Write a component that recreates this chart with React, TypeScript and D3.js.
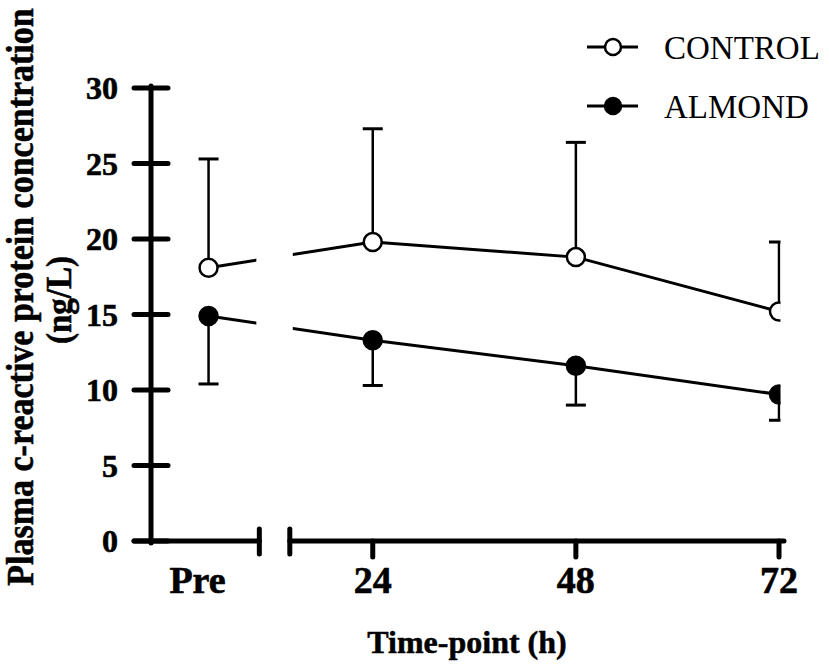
import React from "react";
import { scaleLinear, line } from "d3";

// time points (Pre is drawn at a pseudo-hour left of the axis break)
const timeLabels = ["Pre", "24", "48", "72"];
const timePos = [4.6, 24, 48, 72];

// CRP means and one-sided SD bars (ng/L)
const controlMean = [18.1, 19.8, 18.8, 15.2];
const controlUpper = [25.3, 27.3, 26.4, 19.8];
const almondMean = [14.9, 13.3, 11.6, 9.7];
const almondLower = [10.4, 10.3, 9.0, 8.0];

const yTicks = [0, 5, 10, 15, 20, 25, 30];
const breakAt = [10.6, 14.2];

const W = 829;
const H = 671;
const font = "'Liberation Serif', 'Times New Roman', serif";

export default function App() {
  const x = scaleLinear().domain([-2.2, 72]).range([151, 779]);
  const y = scaleLinear().domain([0, 30]).range([541, 88]);
  const y0 = y(0);

  const makeLine = line<number>()
    .x((_, i) => x(timePos[i]))
    .y((d) => y(d));

  const clipRight = x(72) + 1.5;

  const series = [
    { name: "CONTROL", mean: controlMean, bar: controlUpper, fill: "#fff" },
    { name: "ALMOND", mean: almondMean, bar: almondLower, fill: "#000" },
  ];

  return (
    <svg
      width={W}
      height={H}
      style={{ position: "absolute", left: 0, top: 0, background: "#fff" }}
    >
      <defs>
        <clipPath id="plot">
          <rect x={0} y={0} width={clipRight} height={H} />
        </clipPath>
        {/* gap in the data lines at the axis break */}
        <mask id="gap">
          <rect x={0} y={0} width={W} height={H} fill="#fff" />
          <rect
            x={x(breakAt[0]) - 3}
            y={0}
            width={x(breakAt[1]) - x(breakAt[0]) + 6}
            height={H}
            fill="#000"
          />
        </mask>
      </defs>

      {/* y axis */}
      <line x1={x(-2.2)} x2={x(-2.2)} y1={y(30) - 2} y2={y0 + 2} stroke="#000" strokeWidth={5} strokeLinecap="round" />
      {yTicks.map((t) => (
        <g key={t}>
          <line x1={134} x2={168} y1={y(t)} y2={y(t)} stroke="#000" strokeWidth={5} strokeLinecap="round" />
          <text
            x={118}
            y={y(t)}
            dy="0.35em"
            textAnchor="end"
            fontFamily={font}
            fontWeight="bold"
            fontSize={32}
            stroke="#000"
            strokeWidth={0.6}
          >
            {t}
          </text>
        </g>
      ))}

      {/* x axis with break */}
      <line x1={134} x2={x(breakAt[0])} y1={y0} y2={y0} stroke="#000" strokeWidth={5} strokeLinecap="round" />
      <line x1={x(breakAt[1])} x2={784} y1={y0} y2={y0} stroke="#000" strokeWidth={5} strokeLinecap="round" />
      {breakAt.map((b) => (
        <line key={b} x1={x(b)} x2={x(b)} y1={y0 - 12} y2={y0 + 13} stroke="#000" strokeWidth={5} strokeLinecap="round" />
      ))}
      {timeLabels.map((lab, i) => (
        <g key={lab}>
          {i > 0 && (
            <line x1={x(timePos[i])} x2={x(timePos[i])} y1={y0} y2={y0 + 16} stroke="#000" strokeWidth={5} strokeLinecap="round" />
          )}
          <text
            x={x(timePos[i]) - (i === 0 ? 11 : 0)}
            y={593}
            textAnchor="middle"
            fontFamily={font}
            fontWeight="bold"
            fontSize={38}
            stroke="#000"
            strokeWidth={0.6}
          >
            {lab}
          </text>
        </g>
      ))}

      {/* axis titles */}
      <text x={467} y={653} textAnchor="middle" fontFamily={font} fontWeight="bold" fontSize={32} stroke="#000" strokeWidth={0.5}>
        Time-point (h)
      </text>
      <text
        transform={`translate(33, 297) rotate(-90) scale(1, 1.1)`}
        textAnchor="middle"
        fontFamily={font}
        fontWeight="bold"
        fontSize={34}
        stroke="#000"
        strokeWidth={0.5}
      >
        Plasma c-reactive protein concentration
      </text>
      <text
        transform={`translate(71, 300) rotate(-90) scale(1, 1.1)`}
        textAnchor="middle"
        fontFamily={font}
        fontWeight="bold"
        fontSize={33}
        stroke="#000"
        strokeWidth={0.5}
      >
        (ng/L)
      </text>

      {/* data */}
      <g clipPath="url(#plot)">
        {series.map((s) => (
          <g key={s.name}>
            {s.mean.map((m, i) => (
              <g key={i}>
                <line x1={x(timePos[i])} x2={x(timePos[i])} y1={y(m)} y2={y(s.bar[i])} stroke="#000" strokeWidth={2.5} />
                <line
                  x1={x(timePos[i]) - 10}
                  x2={x(timePos[i]) + 10}
                  y1={y(s.bar[i])}
                  y2={y(s.bar[i])}
                  stroke="#000"
                  strokeWidth={3}
                />
              </g>
            ))}
            <path d={makeLine(s.mean) ?? ""} fill="none" stroke="#000" strokeWidth={3} mask="url(#gap)" />
            {s.mean.map((m, i) => (
              <circle key={i} cx={x(timePos[i])} cy={y(m)} r={9} fill={s.fill} stroke="#000" strokeWidth={2.5} />
            ))}
          </g>
        ))}
      </g>

      {/* legend */}
      {series.map((s, i) => {
        const ly = 47 + i * 59;
        return (
          <g key={s.name}>
            <line x1={587} x2={638} y1={ly} y2={ly} stroke="#000" strokeWidth={3} />
            <circle cx={613} cy={ly} r={8} fill={s.fill} stroke="#000" strokeWidth={2.5} />
            <text x={664} y={ly} dy="0.35em" fontFamily={font} fontSize={33}>
              {s.name}
            </text>
          </g>
        );
      })}
    </svg>
  );
}
